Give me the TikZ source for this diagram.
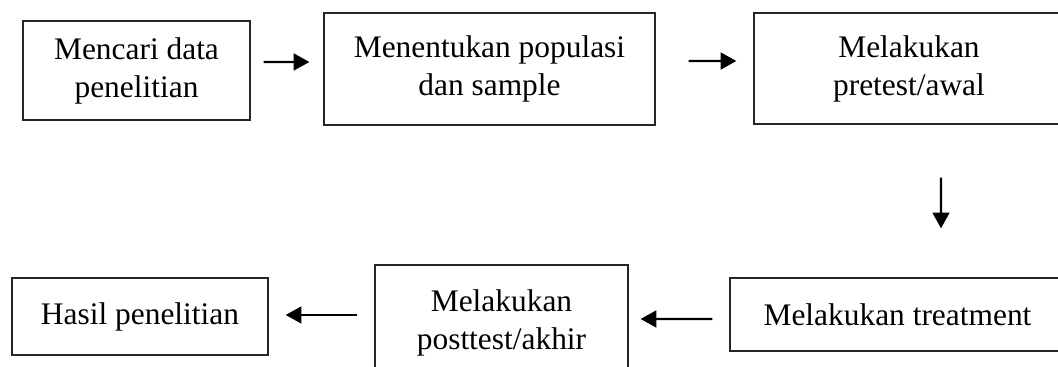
\documentclass[tikz,border=0pt]{standalone}
\usepackage{fontspec}
\setmainfont{Liberation Serif}
\usetikzlibrary{arrows.meta, calc}

\begin{document}
\begin{tikzpicture}[
    x=0.382pt,y=0.382pt,
    box/.style={draw=black!85, line width=0.5pt, align=center, inner sep=0pt,
      font=\fontsize{12}{14.5}\selectfont},
    arr/.style={-{Triangle[length=6pt,width=6.4pt]}, line width=0.9pt}
    ]
    \clip (0,0) rectangle (1058,367);
    % top row
    \node[box, minimum width=86.7pt, minimum height=37.8pt] (cari) at (136.5, 296.5) {Mencari data\\penelitian};
    \node[box, minimum width=126.4pt, minimum height=42.8pt] (populasi) at (489.5, 298) {Menentukan populasi\\dan sample};
    \node[box, minimum width=118.4pt, minimum height=42.4pt] (pretest) at (909, 298.5) {Melakukan\\pretest/awal};
    % bottom row
    \node[box, minimum width=97.8pt, minimum height=29.4pt] (hasil) at (140, 50.5) {Hasil penelitian};
    \node[box, minimum width=96.6pt, minimum height=43.9pt] (posttest) at (501.5, 44.5) {Melakukan\\posttest/akhir};
    \node[box, minimum width=128pt, minimum height=27.9pt] (treatment) at (897.5, 52.5) {Melakukan treatment};
    % arrows
    \draw[arr] ($(cari.east)+(13,8.5)$) -- ($(populasi.west)+(-14,7)$);
    \draw[arr] ($(populasi.east)+(33,8)$) -- ($(pretest.west)+(-17,7.5)$);
    \draw[arr] ($(pretest.south)+(32,-53)$) -- ($(treatment.north)+(43.5,49)$);
    \draw[arr] ($(treatment.west)+(-17,-4.5)$) -- ($(posttest.east)+(12,3.5)$);
    \draw[arr] ($(posttest.west)+(-17,7.5)$) -- ($(hasil.east)+(17,1.5)$);
\end{tikzpicture}
\end{document}
